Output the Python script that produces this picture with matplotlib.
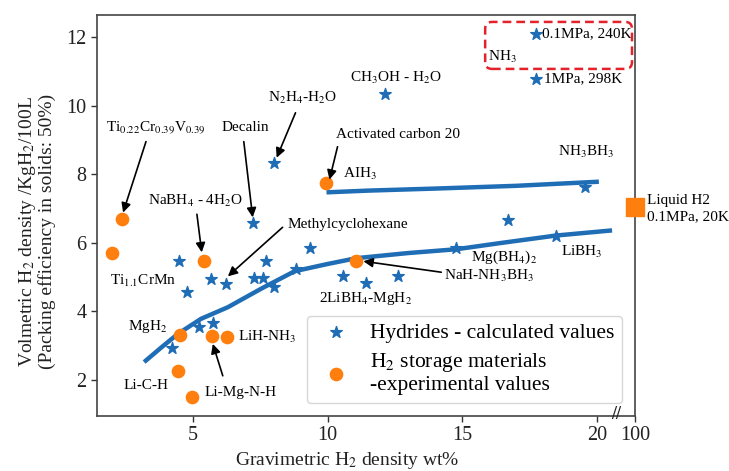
import matplotlib
matplotlib.use('Agg')
import matplotlib.pyplot as plt
from matplotlib.patches import FancyBboxPatch

plt.rcParams['font.family'] = ['Liberation Serif', 'DejaVu Serif']
plt.rcParams['mathtext.fontset'] = 'stix'

# Hydrides - calculated values (wt%, kgH2/100L)
hyd_x = [17.74, 17.74, 12.15, 8.00, 7.22, 19.56, 16.70, 18.48, 14.78, 9.33, 8.81,
         10.56, 11.44, 12.63, 4.48, 7.70, 5.67, 6.22, 7.26, 7.59, 8.00, 4.78,
         5.22, 5.74, 4.22]
hyd_y = [12.09, 10.78, 10.34, 8.34, 6.59, 7.64, 6.65, 6.19, 5.84, 5.84, 5.23,
         5.02, 4.82, 5.02, 5.46, 5.46, 4.94, 4.79, 4.97, 4.97, 4.70, 4.56,
         3.54, 3.66, 2.93]

# H2 storage materials - experimental values
exp_x = [9.96, 2.37, 2.00, 5.41, 11.07, 4.52, 5.70, 6.26, 4.44, 4.96]
exp_y = [7.73, 6.68, 5.69, 5.46, 5.46, 3.31, 3.28, 3.25, 2.26, 1.51]

# liquid hydrogen sits at 100 wt% (drawn at the axis break)
liq_x = 21.41
liq_y = 7.05

# trend lines
upper_x = [9.96, 11.5, 14.0, 17.0, 20.07]
upper_y = [7.47, 7.52, 7.58, 7.66, 7.78]
lower_x = [3.19, 3.85, 4.44, 5.3, 6.30, 7.56, 8.78, 10.0, 11.07, 13.0, 14.78, 16.5, 18.48, 20.56]
lower_y = [2.52, 2.96, 3.34, 3.78, 4.12, 4.67, 5.17, 5.38, 5.55, 5.70, 5.81, 6.00, 6.21, 6.36]

xticks = [5, 10, 15, 20, 21.41]
xticklabels = ['5', '10', '15', '20', '100']

blue = '#1f6db5'
orange = '#ff7f0e'

fig = plt.figure(figsize=(7.29, 4.71), dpi=100)
ax = fig.add_axes([0.133, 0.117, 0.738, 0.851])

ax.plot(upper_x, upper_y, color=blue, lw=3.2, solid_capstyle='butt')
ax.plot(lower_x, lower_y, color=blue, lw=3.2, solid_capstyle='butt', solid_joinstyle='round')

ax.scatter(hyd_x, hyd_y, marker='*', s=75, color=blue, zorder=3,
           label='Hydrides - calculated values')
ax.scatter(exp_x, exp_y, marker='o', s=78, color=orange, zorder=3,
           label='H$_2$ storage materials\n-experimental values')
ax.scatter([liq_x], [liq_y], marker='s', s=170, color=orange, zorder=4, clip_on=False)

ax.set_xlim(1.44, 21.41)
ax.set_ylim(0.95, 12.64)
ax.set_xticks(xticks)
ax.set_xticklabels(xticklabels)
ax.set_yticks([2, 4, 6, 8, 10, 12])
ax.tick_params(labelsize=14.5, length=4, width=1, colors='#333333', labelcolor='#222222')
for s in ax.spines.values():
    s.set_color('#444444')
    s.set_linewidth(1.2)

ax.set_xlabel('Gravimetric H$_2$ density wt%', fontsize=14, color='#222222')
ax.set_ylabel('Volmetric H$_2$ density /KgH$_2$/100L\n(Packing efficiency in solids: 50%)',
              fontsize=14, color='#222222', linespacing=1.0)
ax.xaxis.set_label_coords(0.465, -0.085)
ax.yaxis.set_label_coords(-0.077, 0.46)

# axis break mark
ax.text(20.72, 1.0, '//', fontsize=13, fontweight='bold', ha='center', va='center',
        color='#222222', clip_on=False)

# NH3 box
box = FancyBboxPatch((15.85, 11.07), 5.45, 1.37,
                     boxstyle='round,pad=0,rounding_size=0.25', mutation_aspect=0.8,
                     fill=False, edgecolor='#e3222b', lw=1.8, linestyle=(0, (3.5, 2)),
                     clip_on=False, zorder=5)
ax.add_patch(box)

fs = 11
ax.text(15.96, 11.42, 'NH$_3$', fontsize=fs, ha='left', va='center')
ax.text(17.95, 12.09, '0.1MPa, 240K', fontsize=fs, ha='left', va='center')
ax.text(18.02, 10.78, '1MPa, 298K', fontsize=fs, ha='left', va='center')
ax.text(12.52, 10.81, 'CH$_3$OH - H$_2$O', fontsize=fs, ha='center', va='center')
ax.text(9.07, 10.23, 'N$_2$H$_4$-H$_2$O', fontsize=fs, ha='center', va='center')
ax.text(3.63, 9.35, 'Ti$_{0.22}$Cr$_{0.39}$V$_{0.39}$', fontsize=fs, ha='center', va='center')
ax.text(6.96, 9.35, 'Decalin', fontsize=fs, ha='center', va='center')
ax.text(10.33, 9.15, 'Activated carbon 20', fontsize=fs, ha='left', va='center')
ax.text(10.56, 8.02, 'AIH$_3$', fontsize=fs, ha='left', va='center')
ax.text(19.6, 8.66, 'NH$_3$BH$_3$', fontsize=fs, ha='center', va='center')
ax.text(21.85, 7.0, 'Liquid H2\n0.1MPa, 20K', fontsize=fs, ha='left', va='center',
        clip_on=False, linespacing=1.3)
ax.text(5.11, 7.23, 'NaBH$_4$ - 4H$_2$O', fontsize=fs, ha='center', va='center')
ax.text(8.52, 6.53, 'Methylcyclohexane', fontsize=fs, ha='left', va='center')
ax.text(3.15, 4.88, 'Ti$_{1.1}$CrMn', fontsize=fs, ha='center', va='center')
ax.text(3.33, 3.57, 'MgH$_2$', fontsize=fs, ha='center', va='center')
ax.text(7.78, 3.25, 'LiH-NH$_3$', fontsize=fs, ha='center', va='center')
ax.text(3.26, 1.85, 'Li-C-H', fontsize=fs, ha='center', va='center')
ax.text(6.78, 1.62, 'Li-Mg-N-H', fontsize=fs, ha='center', va='center')
ax.text(11.41, 4.38, '2LiBH$_4$-MgH$_2$', fontsize=fs, ha='center', va='center')
ax.text(14.33, 5.02, 'NaH-NH$_3$BH$_3$', fontsize=fs, ha='left', va='center')
ax.text(16.56, 5.58, 'Mg(BH$_4$)$_2$', fontsize=fs, ha='center', va='center')
ax.text(19.44, 5.72, 'LiBH$_3$', fontsize=fs, ha='center', va='center')

# arrows: (tail, head)
arrows = [
    ((3.26, 8.95), (2.41, 6.88)),
    ((6.89, 8.95), (7.22, 6.74)),
    ((8.81, 9.79), (8.11, 8.48)),
    ((10.37, 8.80), (10.07, 7.84)),
    ((5.15, 6.83), (5.33, 5.72)),
    ((8.33, 6.45), (6.30, 5.02)),
    ((6.11, 2.12), (5.74, 3.05)),
    ((14.22, 5.14), (11.33, 5.46)),
]
for tail, head in arrows:
    ax.annotate('', xy=head, xytext=tail,
                arrowprops=dict(arrowstyle='-|>', color='black', lw=1.2,
                                mutation_scale=14, shrinkA=0, shrinkB=0))

leg = ax.legend(loc='lower right', fontsize=15.5, handletextpad=0.6, borderaxespad=0.6,
                labelspacing=0.35, borderpad=0.35)
leg.get_frame().set_edgecolor('#cccccc')

fig.savefig('out.png', dpi=100)
